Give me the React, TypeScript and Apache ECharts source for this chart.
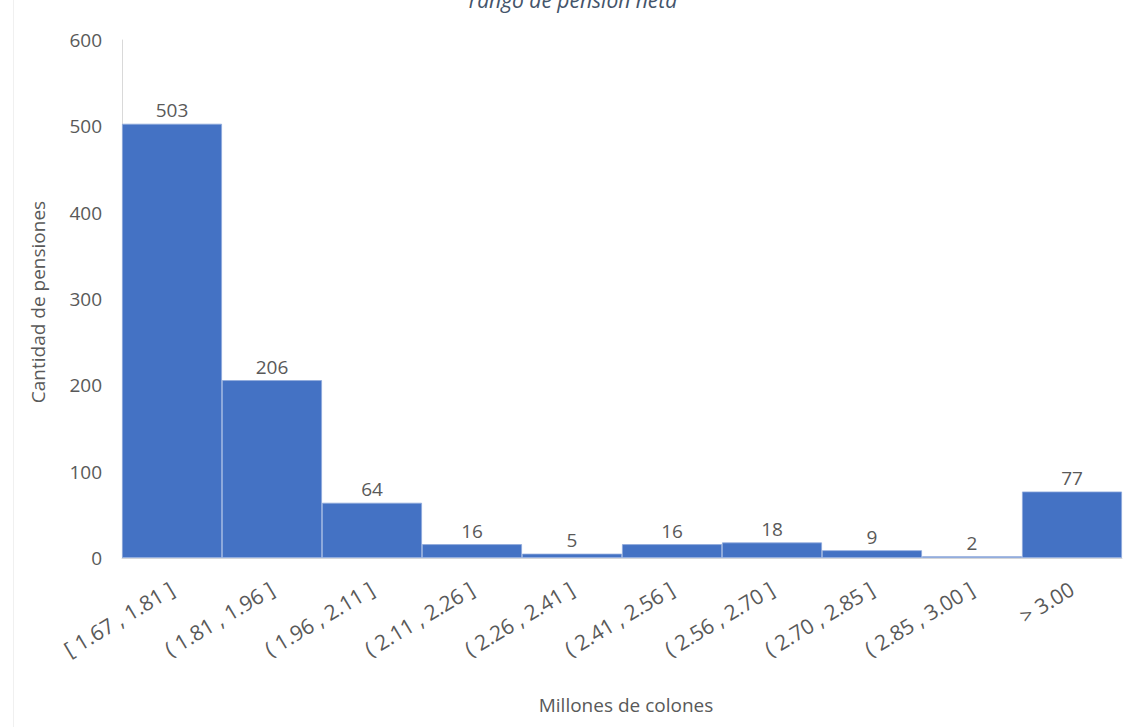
import React, { useEffect, useRef } from "react";
import * as echarts from "echarts";

// Pension net-amount ranges (millions of colones) and how many pensions fall in each
const categories = [
  "[ 1.67 , 1.81 ]",
  "( 1.81 , 1.96 ]",
  "( 1.96 , 2.11 ]",
  "( 2.11 , 2.26 ]",
  "( 2.26 , 2.41 ]",
  "( 2.41 , 2.56 ]",
  "( 2.56 , 2.70 ]",
  "( 2.70 , 2.85 ]",
  "( 2.85 , 3.00 ]",
  "> 3.00",
];
const counts = [503, 206, 64, 16, 5, 16, 18, 9, 2, 77];

const titleText = "rango de pensión neta";
const yAxisName = "Cantidad de pensiones";
const xAxisName = "Millones de colones";

const FONT = "'Open Sans', 'Noto Sans', sans-serif";
const TEXT = "#595959";

export default function App() {
  const ref = useRef<HTMLDivElement>(null);

  useEffect(() => {
    if (!ref.current) return;
    const chart = echarts.init(ref.current, undefined, { renderer: "svg" });
    chart.setOption({
      animation: false,
      backgroundColor: "#ffffff",
      textStyle: { fontFamily: FONT },
      graphic: [
        {
          type: "text",
          x: 573,
          y: 0,
          style: {
            text: titleText,
            fontFamily: FONT,
            fontSize: 21,
            fontStyle: "italic",
            fill: "#44546A",
            align: "center",
            verticalAlign: "middle",
          },
        },
        {
          type: "line",
          shape: { x1: 13.5, y1: 0, x2: 13.5, y2: 727 },
          style: { stroke: "#f0f0f0", lineWidth: 1 },
        },
        {
          type: "text",
          x: 626,
          y: 705,
          style: {
            text: xAxisName,
            fontFamily: FONT,
            fontSize: 19,
            fill: TEXT,
            align: "center",
            verticalAlign: "middle",
          },
        },
        {
          type: "text",
          x: 38,
          y: 302,
          rotation: Math.PI / 2,
          style: {
            text: yAxisName,
            fontFamily: FONT,
            fontSize: 19,
            fill: TEXT,
            align: "center",
            verticalAlign: "middle",
          },
        },
      ],
      grid: { left: 122, right: 8, top: 40, bottom: 169, containLabel: false },
      xAxis: {
        type: "category",
        data: categories,
        axisLine: { show: true, lineStyle: { color: "#d9d9d9", width: 1 } },
        axisTick: { show: false },
        axisLabel: {
          interval: 0,
          rotate: 31,
          margin: 29,
          color: TEXT,
          fontSize: 21,
          fontFamily: FONT,
        },
      },
      yAxis: {
        type: "value",
        min: 0,
        max: 600,
        interval: 100,
        axisLine: { show: true, lineStyle: { color: "#d9d9d9", width: 1 } },
        axisTick: { show: false },
        splitLine: { show: false },
        axisLabel: {
          color: TEXT,
          fontSize: 19,
          fontFamily: FONT,
          margin: 20,
        },
      },
      series: [
        {
          type: "bar",
          data: counts,
          barCategoryGap: "0%",
          itemStyle: {
            color: "#4472C4",
            borderColor: "#8faadc",
            borderWidth: 0.8,
          },
          label: {
            show: true,
            position: "top",
            distance: 4,
            color: TEXT,
            fontSize: 19,
            fontFamily: FONT,
          },
        },
      ],
    });
    return () => chart.dispose();
  }, []);

  return (
    <div
      ref={ref}
      style={{ position: "absolute", left: 0, top: 0, width: 1130, height: 727 }}
    />
  );
}
